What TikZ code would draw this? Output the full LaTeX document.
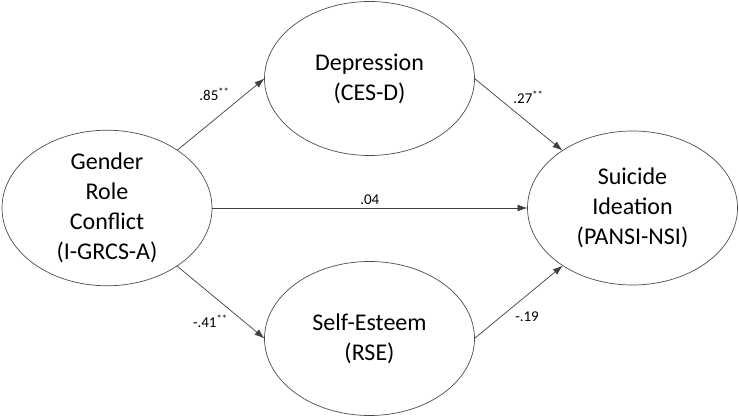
\documentclass[tikz,border=0pt]{standalone}
\usepackage{fontspec}
\setmainfont{Carlito}
\usetikzlibrary{arrows.meta,shapes.geometric}

\begin{document}
\begin{tikzpicture}[x=1pt,y=1pt,
   var/.style={ellipse, draw=black!70, line width=0.7pt, minimum width=210pt, minimum height=154pt,
     inner sep=0pt, outer sep=0pt, align=center, font=\fontsize{24}{30}\selectfont}]
 \useasboundingbox (0,0) rectangle (739,418);
 \node[var] (grc) at (107,210)   {Gender\\Role\\Conflict\\(I-GRCS-A)};
 \node[var] (dep) at (369.5,339.5) {Depression\\(CES-D)};
 \node[var] (rse) at (369.5,79.5)  {Self-Esteem\\(RSE)};
 \node[var] (si)  at (632.5,210)   {Suicide\\Ideation\\(PANSI-NSI)};
  \path[-{Latex[length=10pt,width=7pt]}, line width=0.7pt,
        every edge/.append style={draw=black!75},
        every node/.style={font=\fontsize{15}{18}\selectfont}]
  (grc) edge node [pos=0.64, above left] {.85\textsuperscript{**}} (dep.west)
  (dep.east) edge node [pos=0.4, above right] {.27\textsuperscript{**}} (si)
  (grc) edge node [above] {.04} (si)
  (grc) edge node [pos=0.62, below left] {-.41\textsuperscript{**}} (rse.west)
  (rse.east) edge node [pos=0.42, below right] {-.19} (si)
  ;
\end{tikzpicture}
\end{document}
